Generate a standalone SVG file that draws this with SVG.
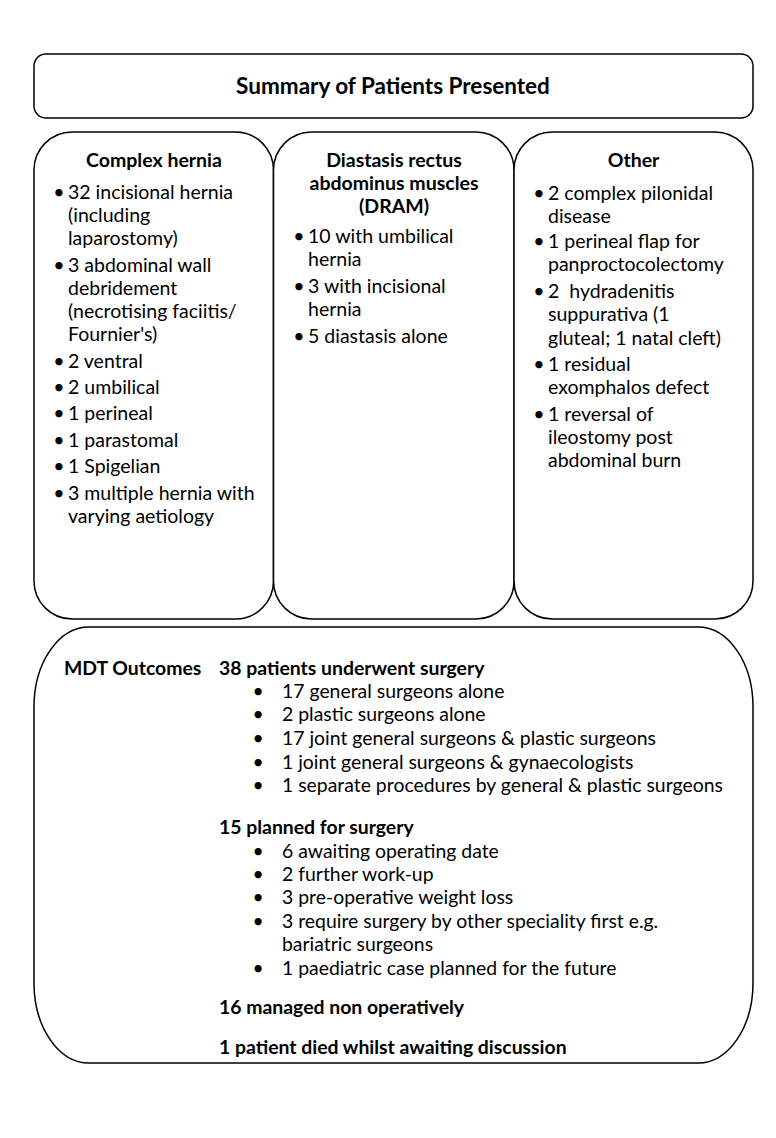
<svg xmlns="http://www.w3.org/2000/svg" width="776" height="1138" viewBox="0 0 776 1138">
<style>
.box{fill:#fff;stroke:#000;stroke-width:1.5}
text{font-family:Lato,"Liberation Sans",sans-serif;fill:#000}
.h{font-weight:bold;font-size:19.5px;text-anchor:middle}
.c{font-size:19.5px}
.t{font-weight:bold;font-size:22.5px;text-anchor:middle}
.b{font-size:19.4px}
.bb{font-size:19.4px;font-weight:bold}
.d{text-anchor:middle}
</style>
<rect width="776" height="1138" fill="#fff"/>
<g id="title">
<rect class="box" x="34" y="54" width="719" height="64" rx="12"/>
<text class="t" x="393" y="94">Summary of Patients Presented</text>
</g>
<g id="complex-hernia">
<rect class="box" x="34" y="132" width="239.5" height="487" rx="38"/>
<text class="h" x="154" y="167">Complex hernia</text>
<g class="c">
<text class="d" x="59" y="199">•</text><text x="68" y="199">32 incisional hernia</text>
<text x="68" y="222">(including</text>
<text x="68" y="245">laparostomy)</text>
<text class="d" x="59" y="272">•</text><text x="68" y="272">3 abdominal wall</text>
<text x="68" y="295">debridement</text>
<text x="68" y="318">(necrotising faciitis/</text>
<text x="68" y="341">Fournier's)</text>
<text class="d" x="59" y="368">•</text><text x="68" y="368">2 ventral</text>
<text class="d" x="59" y="394">•</text><text x="68" y="394">2 umbilical</text>
<text class="d" x="59" y="420">•</text><text x="68" y="420">1 perineal</text>
<text class="d" x="59" y="447">•</text><text x="68" y="447">1 parastomal</text>
<text class="d" x="59" y="473">•</text><text x="68" y="473">1 Spigelian</text>
<text class="d" x="59" y="500">•</text><text x="68" y="500">3 multiple hernia with</text>
<text x="68" y="523">varying aetiology</text>
</g>
</g>
<g id="dram">
<rect class="box" x="273.5" y="132" width="240.5" height="487" rx="38"/>
<text class="h" x="394" y="167">Diastasis rectus</text>
<text class="h" x="394" y="190">abdominus muscles</text>
<text class="h" x="394" y="213">(DRAM)</text>
<g class="c">
<text class="d" x="299" y="243">•</text><text x="308" y="243">10 with umbilical</text>
<text x="308" y="266">hernia</text>
<text class="d" x="299" y="293">•</text><text x="308" y="293">3 with incisional</text>
<text x="308" y="316">hernia</text>
<text class="d" x="299" y="343">•</text><text x="308" y="343">5 diastasis alone</text>
</g>
</g>
<g id="other">
<rect class="box" x="514" y="132" width="239" height="487" rx="38"/>
<text class="h" x="633.5" y="167">Other</text>
<g class="c">
<text class="d" x="539" y="200">•</text><text x="548" y="200">2 complex pilonidal</text>
<text x="548" y="223">disease</text>
<text class="d" x="539" y="248">•</text><text x="548" y="248">1 perineal flap for</text>
<text x="548" y="271">panproctocolectomy</text>
<text class="d" x="539" y="298">•</text><text x="548" y="298" xml:space="preserve">2  hydradenitis</text>
<text x="548" y="321">suppurativa (1</text>
<text x="548" y="345">gluteal; 1 natal cleft)</text>
<text class="d" x="539" y="371">•</text><text x="548" y="371">1 residual</text>
<text x="548" y="394">exomphalos defect</text>
<text class="d" x="539" y="421">•</text><text x="548" y="421">1 reversal of</text>
<text x="548" y="444">ileostomy post</text>
<text x="548" y="467">abdominal burn</text>
</g>
</g>
<g id="mdt-outcomes">
<rect class="box" x="34" y="627" width="719" height="436" rx="55" ry="80"/>
<text class="bb" x="64" y="675">MDT Outcomes</text>
<text class="bb" x="219" y="675">38 patients underwent surgery</text>
<g class="b">
<text class="d" x="258" y="698">•</text><text x="282" y="698">17 general surgeons alone</text>
<text class="d" x="258" y="721">•</text><text x="282" y="721">2 plastic surgeons alone</text>
<text class="d" x="258" y="745">•</text><text x="282" y="745">17 joint general surgeons &amp; plastic surgeons</text>
<text class="d" x="258" y="769">•</text><text x="282" y="769">1 joint general surgeons &amp; gynaecologists</text>
<text class="d" x="258" y="792">•</text><text x="282" y="792">1 separate procedures by general &amp; plastic surgeons</text>
</g>
<text class="bb" x="219" y="834">15 planned for surgery</text>
<g class="b">
<text class="d" x="258" y="858">•</text><text x="282" y="858">6 awaiting operating date</text>
<text class="d" x="258" y="881">•</text><text x="282" y="881">2 further work-up</text>
<text class="d" x="258" y="904">•</text><text x="282" y="904">3 pre-operative weight loss</text>
<text class="d" x="258" y="928">•</text><text x="282" y="928">3 require surgery by other speciality first e.g.</text>
<text x="282" y="951">bariatric surgeons</text>
<text class="d" x="258" y="975">•</text><text x="282" y="975">1 paediatric case planned for the future</text>
</g>
<text class="bb" x="219" y="1014">16 managed non operatively</text>
<text class="bb" x="219" y="1054">1 patient died whilst awaiting discussion</text>
</g>
</svg>
